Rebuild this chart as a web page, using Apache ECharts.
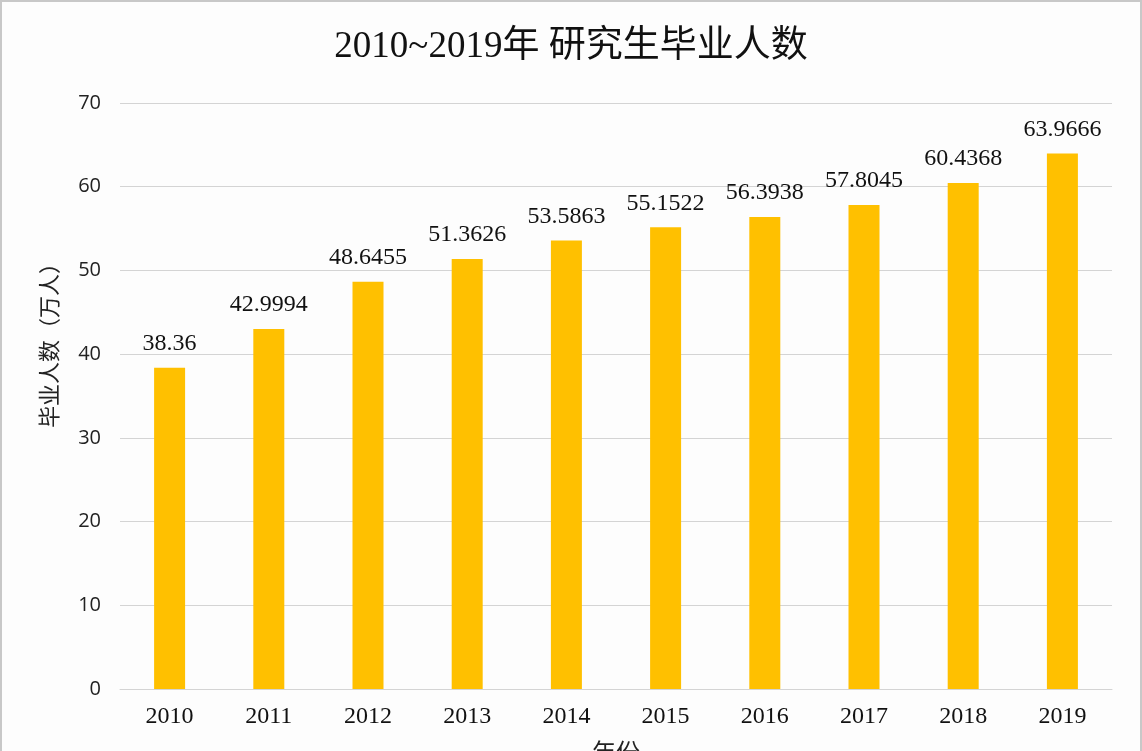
<!DOCTYPE html>
<html>
<head>
<meta charset="utf-8">
<script src="https://cdn.jsdelivr.net/npm/echarts@6/dist/echarts.min.js"></script>
<style>
html,body{margin:0;padding:0;background:#fdfdfd;}
#c{width:1142px;height:751px;}
</style>
</head>
<body>
<div id="c"></div>
<script>
const years = ['2010','2011','2012','2013','2014','2015','2016','2017','2018','2019'];
const graduates = [38.36, 42.9994, 48.6455, 51.3626, 53.5863, 55.1522, 56.3938, 57.8045, 60.4368, 63.9666];
const yTicks = [0, 10, 20, 30, 40, 50, 60, 70];
const titleText = '2010~2019年 研究生毕业人数';
const yName = '毕业人数（万人）';
const xName = '年份';

const serif = '"Liberation Serif", "Noto Sans CJK SC", serif';
const sans = '"Open Sans", "Noto Sans CJK SC", sans-serif';

const chart = echarts.init(document.getElementById('c'));
chart.setOption({
  backgroundColor: '#fdfdfd',
  animation: false,
  title: {
    text: titleText,
    left: 'center',
    top: 24,
    textStyle: { fontFamily: serif, fontSize: 37, fontWeight: 'normal', color: '#111' }
  },
  graphic: [{
    type: 'rect',
    shape: { x: 1, y: 1, width: 1140, height: 760 },
    style: { fill: 'none', stroke: '#c8c8c8', lineWidth: 2 },
    silent: true
  }],
  grid: { left: 120, right: 30, top: 103, bottom: 62, containLabel: false, outerBoundsMode: 'none' },
  xAxis: {
    type: 'category',
    data: years,
    name: xName,
    nameLocation: 'middle',
    nameGap: 53,
    nameTextStyle: { fontFamily: sans, fontSize: 24, color: '#222' },
    axisLine: { show: true, lineStyle: { color: '#d4d4d4', width: 1 } },
    axisTick: { show: false },
    axisLabel: { fontFamily: serif, fontSize: 24, color: '#111', margin: 16 }
  },
  yAxis: {
    type: 'value',
    min: 0, max: 70, interval: 10,
    name: yName,
    nameLocation: 'middle',
    nameRotate: 90,
    nameGap: 58,
    nameTextStyle: { fontFamily: sans, fontSize: 22, color: '#222', padding: [0, 0, 0, 112] },
    axisLine: { show: false },
    axisTick: { show: false },
    axisLabel: { fontFamily: sans, fontSize: 20, color: '#222', margin: 19 },
    splitLine: { lineStyle: { color: '#d4d4d4', width: 1 } }
  },
  series: [{
    type: 'bar',
    data: graduates,
    barWidth: 31,
    itemStyle: { color: '#FFC000' },
    label: {
      show: true,
      position: 'top',
      distance: 12,
      fontFamily: serif,
      fontSize: 24,
      color: '#111'
    }
  }]
});
</script>
</body>
</html>
